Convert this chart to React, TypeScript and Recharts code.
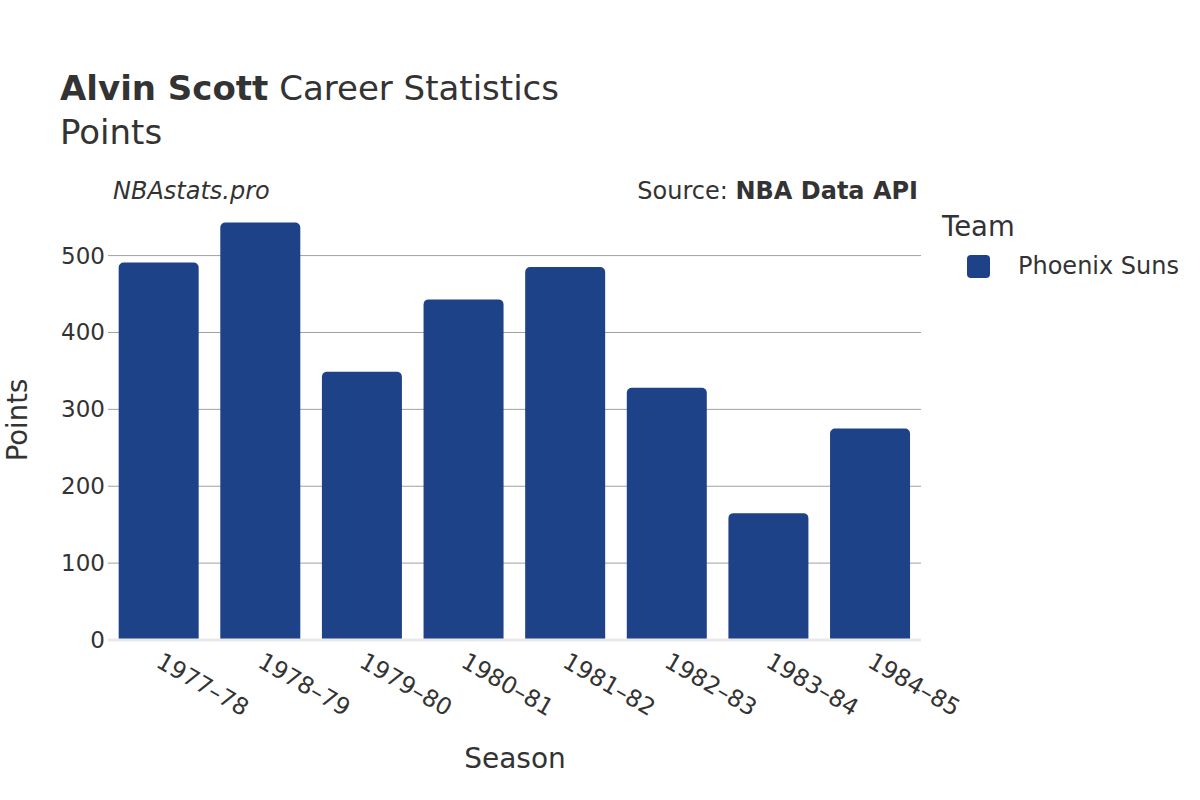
import React from 'react';
import { BarChart, Bar, XAxis, YAxis, CartesianGrid, ReferenceLine } from 'recharts';

const seasons = ['1977–78', '1978–79', '1979–80', '1980–81', '1981–82', '1982–83', '1983–84', '1984–85'];
const points = [491, 543, 349, 443, 485, 328, 165, 275];
const yTicks = [0, 100, 200, 300, 400, 500];
const gridValues = [100, 200, 300, 400, 500];
const teamName = 'Phoenix Suns';

const data = seasons.map((s, i) => ({ season: s, points: points[i] }));

const FONT = '"DejaVu Sans", sans-serif';
const TEXT = '#333333';
const BAR = '#1d4287';

const XTick = (props: any) => {
  const { x, y, payload } = props;
  return (
    <g transform={`translate(${x},${y})`}>
      <text x={-4} y={26} transform="rotate(30, -4, 26)" textAnchor="start" fill={TEXT} fontSize={23.5} fontFamily={FONT}>
        {payload.value}
      </text>
    </g>
  );
};

const YTick = (props: any) => {
  const { x, y, payload } = props;
  return (
    <text x={x} y={y} dy={8} textAnchor="end" fill={TEXT} fontSize={23} fontFamily={FONT}>
      {payload.value}
    </text>
  );
};

export default function App() {
  return (
    <div style={{ position: 'absolute', left: 0, top: 0, width: 1200, height: 800, background: '#fff', fontFamily: FONT, color: TEXT }}>
      <div style={{ position: 'absolute', left: 60, top: 66, fontSize: 34, whiteSpace: 'nowrap', lineHeight: '44px' }}>
        <span style={{ fontWeight: 'bold' }}>Alvin Scott</span> Career Statistics
      </div>
      <div style={{ position: 'absolute', left: 60, top: 110, fontSize: 34, lineHeight: '44px' }}>Points</div>
      <div style={{ position: 'absolute', left: 113, top: 176, fontSize: 24, fontStyle: 'italic', lineHeight: '30px' }}>NBAstats.pro</div>
      <div style={{ position: 'absolute', right: 1200 - 918, top: 176, fontSize: 24, lineHeight: '30px', whiteSpace: 'nowrap' }}>
        Source: <span style={{ fontWeight: 'bold' }}>NBA Data API</span>
      </div>
      <div style={{ position: 'absolute', left: 0, width: 1030, top: 742, textAlign: 'center', fontSize: 28, lineHeight: '34px' }}>Season</div>
      <div style={{ position: 'absolute', left: 17, top: 420, transform: 'translate(-50%, -50%) rotate(-90deg)', fontSize: 27.5, lineHeight: '34px', whiteSpace: 'nowrap' }}>Points</div>
      <div style={{ position: 'absolute', left: 942, top: 210 }}>
        <div style={{ fontSize: 27.5, lineHeight: '32px' }}>Team</div>
        <div style={{ display: 'flex', alignItems: 'center', marginTop: 10, marginLeft: 25 }}>
          <div style={{ width: 23, height: 23, borderRadius: 4, background: BAR }} />
          <div style={{ fontSize: 24, marginLeft: 28, whiteSpace: 'nowrap' }}>{teamName}</div>
        </div>
      </div>
      <BarChart
        width={1200}
        height={800}
        data={data}
        margin={{ top: 201, right: 279, bottom: 100, left: 58 }}
        barCategoryGap="10.5%"
      >
        <CartesianGrid horizontal={true} vertical={false} horizontalValues={gridValues} stroke="#a0a0a0" strokeWidth={1} />
        <XAxis dataKey="season" tick={<XTick />} tickLine={false} axisLine={false} height={60} tickSize={0} tickMargin={0} interval={0} />
        <YAxis
          domain={[0, 571]}
          ticks={yTicks}
          tick={<YTick />}
          tickLine={false}
          axisLine={false}
          width={50}
          tickSize={0}
          tickMargin={3}
          allowDataOverflow={true}
        />
        <ReferenceLine y={0} stroke="#e9e9e9" strokeWidth={3} />
        <Bar dataKey="points" name={teamName} fill={BAR} radius={[5, 5, 0, 0]} isAnimationActive={false} />
      </BarChart>
    </div>
  );
}
